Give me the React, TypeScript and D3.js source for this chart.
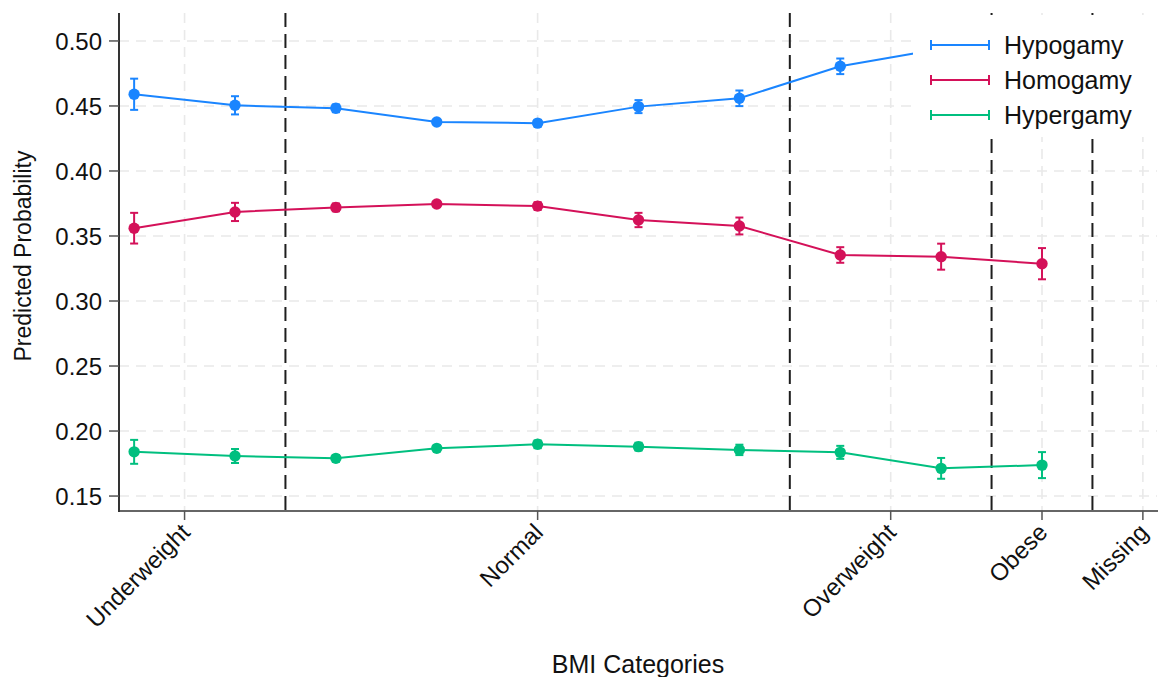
import React from "react";
import * as d3 from "d3";

// Category tick labels and where they sit on the index axis
const categoryLabels = ["Underweight", "Normal", "Overweight", "Obese", "Missing"];
const categoryPositions = [0.5, 4, 7.5, 9, 10];
// Group boundaries (dashed reference lines)
const boundaryPositions = [1.5, 6.5, 8.5, 9.5];

const yTicks = [0.15, 0.2, 0.25, 0.3, 0.35, 0.4, 0.45, 0.5];

// Predicted probabilities (points 0..9) with half-width of the CI
const hypogamy = [0.459, 0.4505, 0.4482, 0.4377, 0.4368, 0.4495, 0.4559, 0.4805, 0.494, 0.499];
const hypogamyErr = [0.012, 0.007, 0.003, 0.0015, 0.0025, 0.005, 0.006, 0.006, 0.007, 0.01];
const homogamy = [0.356, 0.3685, 0.372, 0.3746, 0.373, 0.3623, 0.3577, 0.3354, 0.3341, 0.3287];
const homogamyErr = [0.0118, 0.007, 0.003, 0.002, 0.003, 0.0055, 0.0065, 0.006, 0.01, 0.012];
const hypergamy = [0.184, 0.1808, 0.179, 0.1867, 0.1898, 0.188, 0.1855, 0.1836, 0.1713, 0.1738];
const hypergamyErr = [0.0092, 0.0054, 0.0025, 0.002, 0.003, 0.003, 0.004, 0.005, 0.008, 0.01];

const seriesNames = ["Hypogamy", "Homogamy", "Hypergamy"];
const seriesColors = ["#1a85ff", "#d41159", "#00bf7f"];

const W = 1163;
const H = 677;
const FONT = "'Liberation Sans', Arial, sans-serif";

export default function App() {
  const left = 119;
  const right = 1157;
  const top = 13;
  const bottom = 511;

  const x = d3.scaleLinear().domain([-0.15, 10.14]).range([left, right]);
  const y = d3.scaleLinear().domain([0.1385, 0.5215]).range([bottom, top]);

  const series = [
    { name: seriesNames[0], color: seriesColors[0], values: hypogamy, err: hypogamyErr },
    { name: seriesNames[1], color: seriesColors[1], values: homogamy, err: homogamyErr },
    { name: seriesNames[2], color: seriesColors[2], values: hypergamy, err: hypergamyErr },
  ];

  const line = d3
    .line<number>()
    .x((_, i) => x(i))
    .y((d) => y(d));

  const legendX = 913;
  const legendY = 15;

  return (
    <svg
      width={W}
      height={H}
      style={{ position: "absolute", left: 0, top: 0, background: "#fff" }}
      fontFamily={FONT}
    >
      <rect x={0} y={0} width={W} height={H} fill="#fff" />
      {/* grid */}
      {yTicks.map((t) => (
        <line
          key={"gy" + t}
          x1={left}
          x2={right}
          y1={y(t)}
          y2={y(t)}
          stroke="#e9e9e9"
          strokeWidth={1.6}
          strokeDasharray="10,7"
        />
      ))}
      {categoryPositions.map((p) => (
        <line
          key={"gx" + p}
          x1={x(p)}
          x2={x(p)}
          y1={top}
          y2={bottom}
          stroke="#e9e9e9"
          strokeWidth={1.6}
          strokeDasharray="10,7"
        />
      ))}
      {/* group boundaries */}
      {boundaryPositions.map((p) => (
        <line
          key={"b" + p}
          x1={x(p)}
          x2={x(p)}
          y1={top}
          y2={bottom}
          stroke="#1e1e1e"
          strokeWidth={2}
          strokeDasharray="14,7"
        />
      ))}
      {/* series */}
      {series.map((s) => (
        <g key={s.name}>
          <path d={line(s.values) || ""} fill="none" stroke={s.color} strokeWidth={2} />
          {s.values.map((v, i) => {
            const cx = x(i);
            const lo = y(v - s.err[i]);
            const hi = y(v + s.err[i]);
            return (
              <g key={i}>
                <line x1={cx} x2={cx} y1={lo} y2={hi} stroke={s.color} strokeWidth={2} />
                <line x1={cx - 4} x2={cx + 4} y1={lo} y2={lo} stroke={s.color} strokeWidth={2} />
                <line x1={cx - 4} x2={cx + 4} y1={hi} y2={hi} stroke={s.color} strokeWidth={2} />
                <circle cx={cx} cy={y(v)} r={5.7} fill={s.color} />
              </g>
            );
          })}
        </g>
      ))}
      {/* axes */}
      <line x1={left} x2={left} y1={top} y2={bottom + 1} stroke="#000" strokeWidth={1.6} />
      <line x1={left} x2={right + 1} y1={bottom} y2={bottom} stroke="#333" strokeWidth={1.6} />
      {yTicks.map((t) => (
        <g key={"yt" + t}>
          <line x1={left - 10} x2={left} y1={y(t)} y2={y(t)} stroke="#555" strokeWidth={1.5} />
          <text
            x={left - 17}
            y={y(t)}
            dy="0.36em"
            textAnchor="end"
            fontSize={24}
            fill="#111"
          >
            {t.toFixed(2)}
          </text>
        </g>
      ))}
      {categoryPositions.map((p, i) => (
        <g key={"xt" + p}>
          <line x1={x(p)} x2={x(p)} y1={bottom} y2={bottom + 9} stroke="#555" strokeWidth={1.5} />
          <text
            transform={`translate(${x(p) - 5},${bottom + 11}) rotate(-45)`}
            textAnchor="end"
            dy="0.7em"
            fontSize={24}
            fill="#111"
          >
            {categoryLabels[i]}
          </text>
        </g>
      ))}
      <text x={(left + right) / 2} y={673} textAnchor="middle" fontSize={25} fill="#111">
        BMI Categories
      </text>
      <text
        transform={`translate(31,256) rotate(-90)`}
        textAnchor="middle"
        fontSize={23}
        fill="#111"
      >
        Predicted Probability
      </text>
      {/* legend */}
      <rect x={legendX} y={legendY} width={right - legendX + 2} height={122} fill="#fff" />
      {series.map((s, i) => {
        const ly = 45 + i * 35;
        return (
          <g key={"lg" + s.name}>
            <line x1={931} x2={989} y1={ly} y2={ly} stroke={s.color} strokeWidth={2} />
            <line x1={931} x2={931} y1={ly - 5} y2={ly + 5} stroke={s.color} strokeWidth={2} />
            <line x1={989} x2={989} y1={ly - 5} y2={ly + 5} stroke={s.color} strokeWidth={2} />
            <text x={1004} y={ly} dy="0.36em" fontSize={25} fill="#111">
              {s.name}
            </text>
          </g>
        );
      })}
    </svg>
  );
}
